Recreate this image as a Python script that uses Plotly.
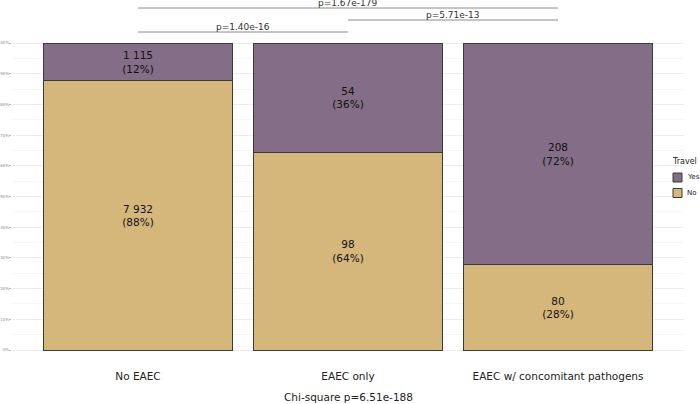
import plotly.graph_objects as go

# ---- data ----
categories = ["No EAEC", "EAEC only", "EAEC w/ concomitant pathogens"]
travel_no = [7932, 98, 80]
travel_yes = [1115, 54, 208]
comparisons = [  # (index a, index b, p-value label)
    (0, 1, "p=1.40e-16"),
    (1, 2, "p=5.71e-13"),
    (0, 2, "p=1.67e-179"),
]
chi_label = "Chi-square p=6.51e-188"
y_ticks = [i / 10 for i in range(11)]
y_ticklabels = [f"{i*10}%" for i in range(11)]

# ---- style ----
W, H = 700, 404
ML, MR, MT, MB = 12, 16, 0, 39
COL_YES = "#846D86"
COL_NO = "#D5B77C"
EDGE = "#3a3a3a"
FONT = "DejaVu Sans"
sig_levels = [1.0358, 1.0749, 1.114]

totals = [a + b for a, b in zip(travel_no, travel_yes)]
frac_no = [n / t for n, t in zip(travel_no, totals)]
frac_yes = [y / t for y, t in zip(travel_yes, totals)]


def fmt(n):
    return f"{n:,}".replace(",", " ")


text_no = [f"{fmt(n)}<br>({round(100*f)}%)" for n, f in zip(travel_no, frac_no)]
text_yes = [f"{fmt(n)}<br>({round(100*f)}%)" for n, f in zip(travel_yes, frac_yes)]

xs = list(range(len(categories)))

fig = go.Figure()
for name, ys, txt, col in [("No", frac_no, text_no, COL_NO), ("Yes", frac_yes, text_yes, COL_YES)]:
    fig.add_trace(go.Bar(
        x=xs, y=ys, name=name, text=txt, width=0.9,
        marker=dict(color=col, line=dict(color=EDGE, width=1)),
        textposition="inside", insidetextanchor="middle", textangle=0,
        textfont=dict(family=FONT, size=10.5, color="#111111"),
        showlegend=False, hoverinfo="skip",
    ))

# significance brackets
for (a, b, lab), lvl in zip(comparisons, sig_levels):
    fig.add_shape(type="line", xref="x", yref="y", x0=a, x1=b, y0=lvl, y1=lvl,
                  line=dict(color="#8a8a8a", width=1))
    fig.add_annotation(xref="x", yref="y", x=(a + b) / 2, y=lvl, text=lab,
                       showarrow=False, yanchor="bottom", yshift=-2,
                       font=dict(family=FONT, size=9, color="#333333"))

pw = W - ML - MR
ph = H - MT - MB


def px2x(px):
    return (px - ML) / pw


def py2y(py):
    return (H - MB - py) / ph


# chi-square caption
fig.add_annotation(xref="paper", yref="paper", x=px2x(348), y=py2y(397), text=chi_label,
                   showarrow=False, xanchor="center", yanchor="middle",
                   font=dict(family=FONT, size=10.5, color="#222222"))

# manual legend
fig.add_annotation(xref="paper", yref="paper", x=px2x(670), y=py2y(162), text="Travel",
                   showarrow=False, xanchor="left", yanchor="middle",
                   font=dict(family=FONT, size=8, color="#222222"))
for lab, col, yc in [("Yes", COL_YES, 177.5), ("No", COL_NO, 193)]:
    fig.add_shape(type="rect", xref="paper", yref="paper",
                  x0=px2x(673), x1=px2x(682), y0=py2y(yc - 4.5), y1=py2y(yc + 4.5),
                  fillcolor=col, line=dict(color=EDGE, width=1))
    fig.add_annotation(xref="paper", yref="paper", x=px2x(685), y=py2y(yc), text=lab,
                       showarrow=False, xanchor="left", yanchor="middle",
                       font=dict(family=FONT, size=7, color="#222222"))

fig.update_layout(
    width=W, height=H, barmode="stack", bargap=0.1,
    margin=dict(l=ML, r=MR, t=MT, b=MB, pad=0),
    paper_bgcolor="white", plot_bgcolor="white",
    xaxis=dict(range=[-0.6, 2.6], tickvals=xs, ticktext=categories,
               showgrid=False, zeroline=False, showline=False, ticks="",
               ticklabelstandoff=3,
               tickfont=dict(family=FONT, size=10.5, color="#222222"), automargin=False),
    yaxis=dict(range=[-0.04886, 1.14007], tickvals=y_ticks, ticktext=y_ticklabels,
               showgrid=True, gridcolor="#ebebeb", gridwidth=1, zeroline=False, showline=False,
               ticks="outside", ticklen=2, tickcolor="#bbbbbb", ticklabelstandoff=-1,
               tickfont=dict(family=FONT, size=4, color="#888888"), automargin=False,
               minor=dict(tickvals=[i / 20 for i in range(1, 20, 2)], showgrid=True,
                          gridcolor="#f5f5f5", gridwidth=1, ticks="")),
)

fig.write_html("out.html")
